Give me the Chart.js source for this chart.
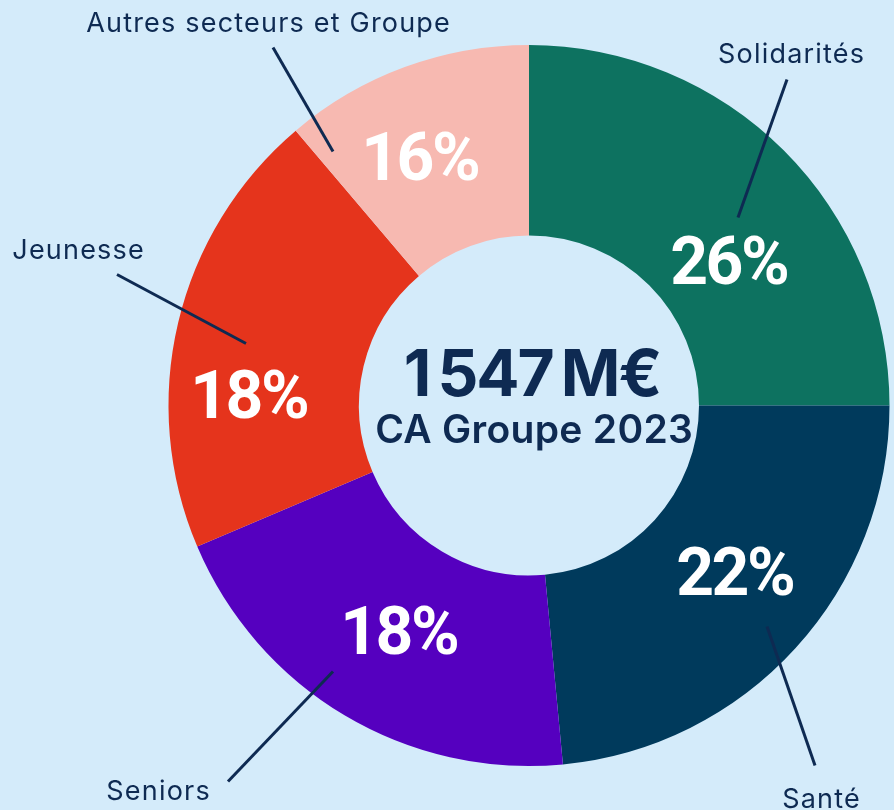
<!DOCTYPE html>
<html>
<head>
<meta charset="utf-8">
<script src="https://cdn.jsdelivr.net/npm/chart.js@4.4.1/dist/chart.umd.min.js"></script>
<style>
  html, body { margin: 0; padding: 0; background: #d4ebfa; }
  canvas { display: block; }
</style>
</head>
<body>
<canvas id="caChart" width="894" height="810"></canvas>
<script>
// categories, clockwise from 12 o'clock
const categories = ['Solidarités', 'Santé', 'Seniors', 'Jeunesse', 'Autres secteurs et Groupe']
// slice sizes as drawn in the picture (%)
const shares = [25, 23.5, 20.1, 20.2, 11.2]
// percent texts printed on the slices
const pctLabels = ['26%', '22%', '18%', '18%', '16%']
const totalLabel = '1\u202f547\u202fM€'
const subtitle = 'CA Groupe 2023'

const colors = ['#0d7260', '#003a5c', '#5500bf', '#e5341c', '#f7b9b1']
const ink = '#0e2a52'

// annotation layout, offsets from the doughnut centre (px)
const pctPos = [[201, -122], [207, 189], [-129, 248], [-279, 12], [-108, -226]]
const namePos = [[262, -343], [292, 402], [-371, 394], [-451, -147], [-261, -374]]
const leaders = [
  [258, -326, 209, -188],
  [238, 221, 286, 360],
  [-196, 266, -301, 376],
  [-412, -131, -283, -62],
  [-256, -358, -196, -254]
]

// canvas letterSpacing also pads after the last glyph, so shift back by half of it
function spacedText(c, text, x, y, spacing) {
  c.letterSpacing = spacing + 'px'
  c.fillText(text, x + spacing / 2, y)
}

const annotations = {
  id: 'annotations',
  afterDraw(chart) {
    const c = chart.ctx
    const arc = chart.getDatasetMeta(0).data[0]
    const cx = arc.x, cy = arc.y
    c.save()
    c.textAlign = 'center'
    c.textBaseline = 'alphabetic'

    // leader lines
    c.strokeStyle = ink
    c.lineWidth = 3
    leaders.forEach(l => {
      c.beginPath()
      c.moveTo(cx + l[0], cy + l[1])
      c.lineTo(cx + l[2], cy + l[3])
      c.stroke()
    })

    // category names
    c.fillStyle = ink
    c.font = '400 27px Inter'
    categories.forEach((name, i) => {
      spacedText(c, name, cx + namePos[i][0], cy + namePos[i][1], 1.2)
    })

    // percentages
    c.fillStyle = '#ffffff'
    c.font = '700 66px Roboto'
    pctLabels.forEach((t, i) => {
      spacedText(c, t, cx + pctPos[i][0], cy + pctPos[i][1], -2.5)
    })

    // centre text
    c.fillStyle = ink
    c.font = '700 64px Inter'
    spacedText(c, totalLabel, cx + 4, cy - 10, -2)
    c.font = '600 39px Inter'
    spacedText(c, subtitle, cx + 5, cy + 37, 0.3)
    c.restore()
  }
}

const ctx = document.getElementById('caChart')
new Chart(ctx, {
  type: 'doughnut',
  data: {
    labels: categories,
    datasets: [{
      data: shares,
      backgroundColor: colors,
      borderWidth: 0
    }]
  },
  options: {
    responsive: false,
    animation: false,
    rotation: 0,
    cutout: 170,
    layout: { padding: { left: 168, right: 4, top: 45, bottom: 44 } },
    plugins: {
      legend: { display: false },
      tooltip: { enabled: false }
    }
  },
  plugins: [annotations]
})
</script>
</body>
</html>
